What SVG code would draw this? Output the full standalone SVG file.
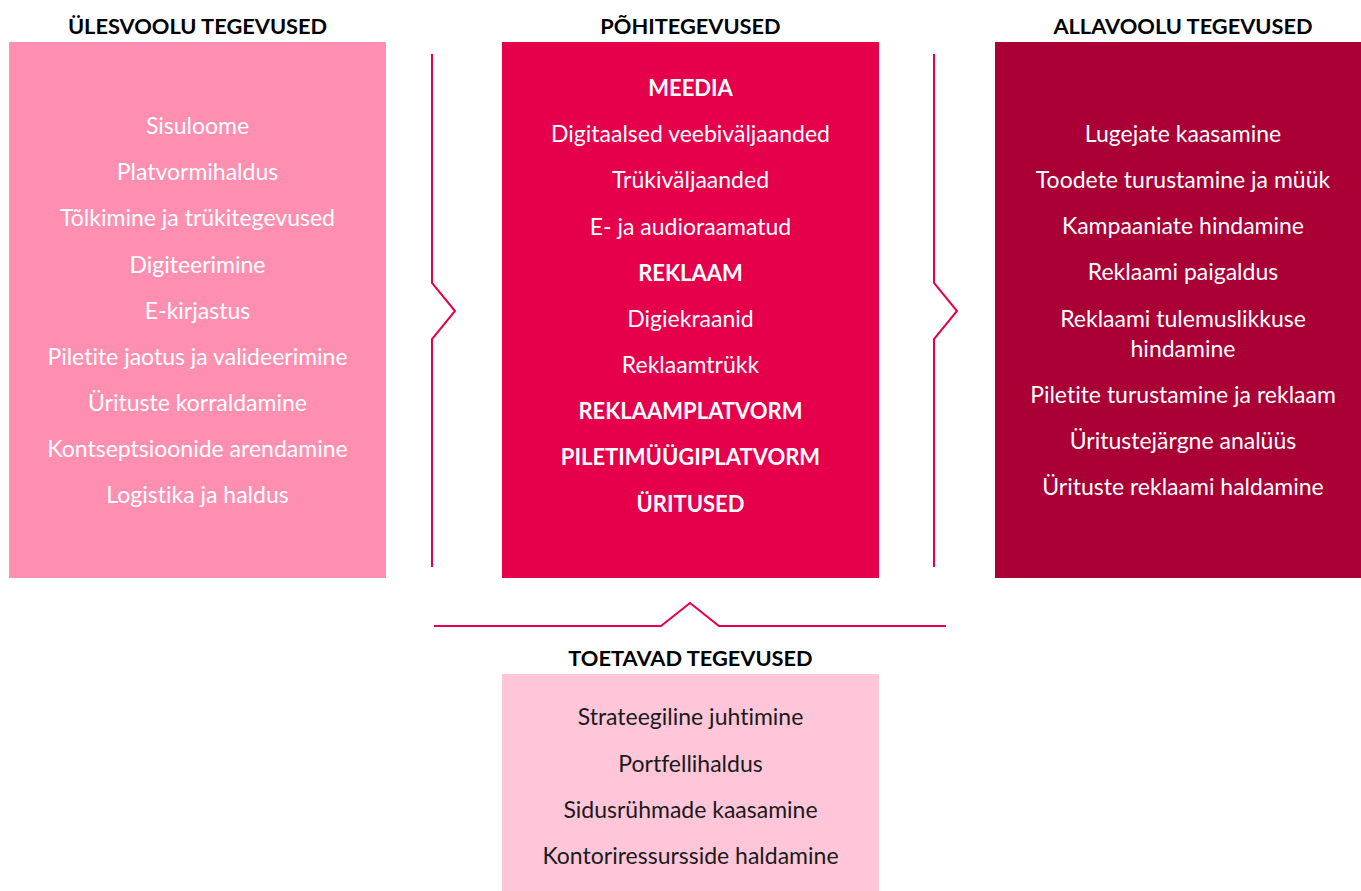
<svg xmlns="http://www.w3.org/2000/svg" width="1361" height="891" viewBox="0 0 1361 891">
<style>
.h{font-family:"Lato","Noto Sans",sans-serif;font-weight:700;font-size:21.8px;fill:#000;text-anchor:middle;font-variant-ligatures:none}
.t{font-family:"Lato","Noto Sans",sans-serif;font-size:23px;fill:#fff;text-anchor:middle;font-variant-ligatures:none}
.b{font-weight:700;font-size:22px}
.d{fill:#1a1a1a}
.c{fill:none;stroke:#E6004C;stroke-width:2}
</style>
<rect width="1361" height="891" fill="#fff"/>
<g id="upstream">
<text class="h" x="197.5" y="34">ÜLESVOOLU TEGEVUSED</text>
<rect x="9" y="42" width="377" height="536" fill="#FF8FB1"/>
<text class="t" x="197.5" y="134">Sisuloome</text>
<text class="t" x="197.5" y="180">Platvormihaldus</text>
<text class="t" x="197.5" y="226">Tõlkimine ja trükitegevused</text>
<text class="t" x="197.5" y="273">Digiteerimine</text>
<text class="t" x="197.5" y="319">E-kirjastus</text>
<text class="t" x="197.5" y="365">Piletite jaotus ja valideerimine</text>
<text class="t" x="197.5" y="411">Ürituste korraldamine</text>
<text class="t" x="197.5" y="457">Kontseptsioonide arendamine</text>
<text class="t" x="197.5" y="503">Logistika ja haldus</text>
</g>
<g id="core">
<text class="h" x="690.5" y="34">PÕHITEGEVUSED</text>
<rect x="502" y="42" width="377" height="536" fill="#E6004C"/>
<text class="t b" x="690.5" y="96">MEEDIA</text>
<text class="t" x="690.5" y="142">Digitaalsed veebiväljaanded</text>
<text class="t" x="690.5" y="188">Trükiväljaanded</text>
<text class="t" x="690.5" y="235">E- ja audioraamatud</text>
<text class="t b" x="690.5" y="281">REKLAAM</text>
<text class="t" x="690.5" y="327">Digiekraanid</text>
<text class="t" x="690.5" y="373">Reklaamtrükk</text>
<text class="t b" x="690.5" y="419">REKLAAMPLATVORM</text>
<text class="t b" x="690.5" y="465">PILETIMÜÜGIPLATVORM</text>
<text class="t b" x="690.5" y="512">ÜRITUSED</text>
</g>
<g id="downstream">
<text class="h" x="1183" y="34">ALLAVOOLU TEGEVUSED</text>
<rect x="995" y="42" width="366" height="536" fill="#AA0036"/>
<text class="t" x="1183" y="142">Lugejate kaasamine</text>
<text class="t" x="1183" y="188">Toodete turustamine ja müük</text>
<text class="t" x="1183" y="234">Kampaaniate hindamine</text>
<text class="t" x="1183" y="280">Reklaami paigaldus</text>
<text class="t" x="1183" y="327">Reklaami tulemuslikkuse</text>
<text class="t" x="1183" y="357">hindamine</text>
<text class="t" x="1183" y="403">Piletite turustamine ja reklaam</text>
<text class="t" x="1183" y="449">Üritustejärgne analüüs</text>
<text class="t" x="1183" y="495">Ürituste reklaami haldamine</text>
</g>
<g id="support">
<text class="h" x="690.5" y="666">TOETAVAD TEGEVUSED</text>
<rect x="502" y="674" width="377" height="217" fill="#FFC6D9"/>
<text class="t d" x="690.5" y="725">Strateegiline juhtimine</text>
<text class="t d" x="690.5" y="772">Portfellihaldus</text>
<text class="t d" x="690.5" y="818">Sidusrühmade kaasamine</text>
<text class="t d" x="690.5" y="864">Kontoriressursside haldamine</text>
</g>
<g id="connectors">
<path class="c" d="M432 54V283L455 311L432 339V567"/>
<path class="c" d="M934 54V283L957 311L934 339V567"/>
<path class="c" d="M434 626H661L690 603L719 626H946"/>
</g>
</svg>
